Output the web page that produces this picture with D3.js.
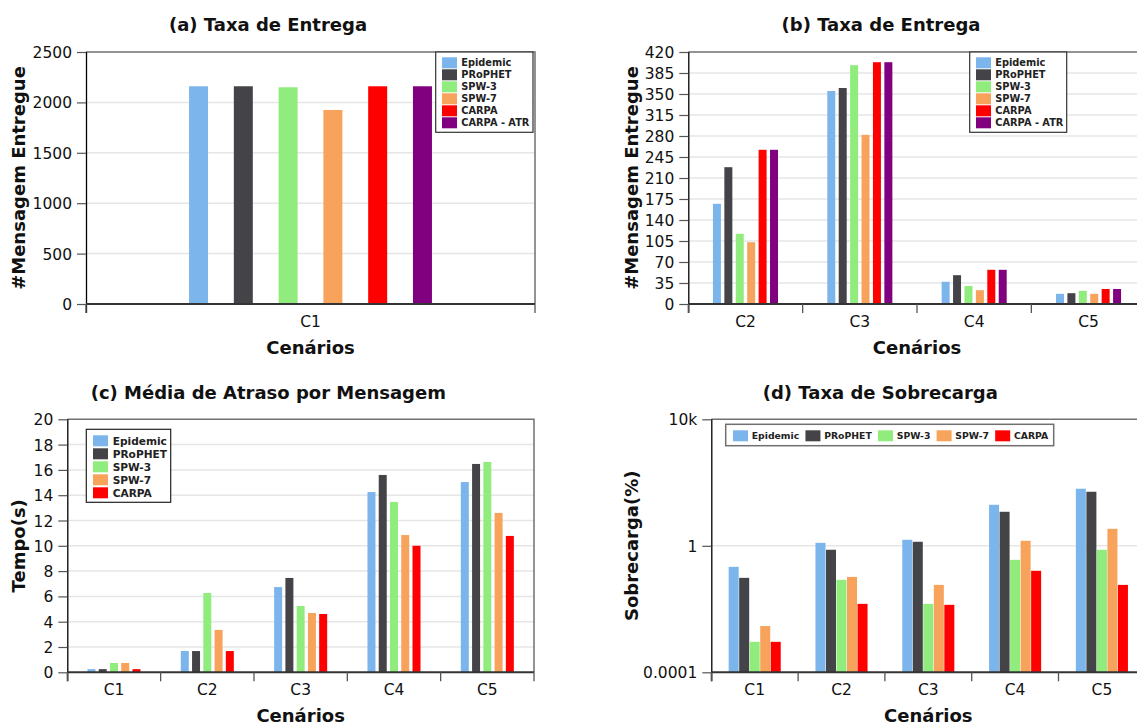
<!DOCTYPE html>
<html><head><meta charset="utf-8">
<script src="https://cdn.jsdelivr.net/npm/d3@7"></script>
<style>
html,body{margin:0;padding:0;background:#fff;}
svg{display:block;font-family:"DejaVu Sans",sans-serif;}
</style></head><body>
<svg id="chart" width="1137" height="725"></svg>
<script>
// ---------- data ----------
const seriesNames  = ["Epidemic", "PRoPHET", "SPW-3", "SPW-7", "CARPA", "CARPA - ATR"];
const seriesColors = ["#7cb5ec", "#434348", "#90ed7d", "#f7a35c", "#ff0000", "#800080"];

// (a) Taxa de Entrega, scenario C1 (one value per series)
const catsA = ["C1"];
const deliveredC1 = [2160, 2160, 2150, 1925, 2160, 2160];

// (b) Taxa de Entrega, scenarios C2..C5
const catsB = ["C2", "C3", "C4", "C5"];
const deliveredEpidemic = [167, 355, 37, 17];
const deliveredProphet  = [228, 360, 48, 18];
const deliveredSpw3     = [117, 398, 30, 22];
const deliveredSpw7     = [103, 282, 23, 17];
const deliveredCarpa    = [257, 403, 57, 25];
const deliveredCarpaAtr = [257, 403, 57, 25];

// (c) Média de Atraso por Mensagem
const catsCD = ["C1", "C2", "C3", "C4", "C5"];
const delayEpidemic = [0.25, 1.68, 6.74, 14.25, 15.04];
const delayProphet  = [0.25, 1.68, 7.46, 15.6, 16.47];
const delaySpw3     = [0.74, 6.27, 5.24, 13.46, 16.63];
const delaySpw7     = [0.74, 3.35, 4.69, 10.85, 12.6];
const delayCarpa    = [0.25, 1.68, 4.61, 10.0, 10.78];

// (d) Taxa de Sobrecarga (log scale)
const overheadEpidemic = [0.216, 1.24, 1.55, 19.8, 63.7];
const overheadProphet  = [0.097, 0.75, 1.34, 11.9, 51.2];
const overheadSpw3     = [0.00092, 0.084, 0.0146, 0.36, 0.75];
const overheadSpw7     = [0.0029, 0.104, 0.058, 1.44, 3.45];
const overheadCarpa    = [0.00092, 0.0146, 0.0136, 0.162, 0.058];

// ticks
const ticksA = [0, 500, 1000, 1500, 2000, 2500];
const ticksB = [0, 35, 70, 105, 140, 175, 210, 245, 280, 315, 350, 385, 420];
const ticksC = [0, 2, 4, 6, 8, 10, 12, 14, 16, 18, 20];
const ticksD = [0.0001, 1, 10000];
const tickLabelsD = ["0.0001", "1", "10k"];

// ---------- helpers ----------
const svg = d3.select("#chart");

function mkSeries(valuesList, n) {
  return valuesList.map((vals, i) => ({ name: seriesNames[i], color: seriesColors[i], values: vals })).slice(0, n);
}

function drawPanel(cfg) {
  const g = svg.append("g");
  const { left, right, top, bottom } = cfg.box;
  const x0 = d3.scaleBand().domain(cfg.categories).range([left, right]).padding(0);
  const bw = x0.bandwidth();
  const span = bw * cfg.groupFrac;
  const x1 = d3.scaleBand().domain(cfg.series.map(s => s.name))
      .range([(bw - span) / 2, (bw + span) / 2]).paddingInner(cfg.barPad).paddingOuter(0);

  let y;
  if (cfg.log) y = d3.scaleLog().domain(cfg.domain).range([bottom, top]);
  else y = d3.scaleLinear().domain(cfg.domain).range([bottom, top]);

  // gridlines
  g.append("g").selectAll("line").data(cfg.ticks.filter(t => y(t) > top + 1 && y(t) < bottom - 1))
    .join("line")
    .attr("x1", left).attr("x2", right)
    .attr("y1", d => y(d)).attr("y2", d => y(d))
    .attr("stroke", "#e6e6e6").attr("stroke-width", 1.5);

  // plot border (top & right)
  g.append("path")
    .attr("d", `M${left},${top}H${right}V${bottom}`)
    .attr("fill", "none").attr("stroke", "#707070").attr("stroke-width", 1.5);

  // bars
  const groups = g.append("g").selectAll("g").data(cfg.series).join("g")
    .attr("fill", d => d.color);
  groups.selectAll("rect")
    .data(s => s.values.map((v, i) => ({ s: s.name, c: cfg.categories[i], v })))
    .join("rect")
    .attr("x", d => x0(d.c) + x1(d.s))
    .attr("width", x1.bandwidth())
    .attr("y", d => y(d.v))
    .attr("height", d => bottom - y(d.v));

  // y axis
  const yAxis = d3.axisLeft(y).tickValues(cfg.ticks).tickSize(9).tickPadding(5)
    .tickFormat((d, i) => cfg.tickLabels ? cfg.tickLabels[i] : d3.format("d")(d));
  const ya = g.append("g").attr("transform", `translate(${left},0)`).call(yAxis);
  ya.select(".domain").attr("d", `M0.5,${top}V${bottom + 9}`).attr("stroke", "#000").attr("stroke-width", 1.3);
  ya.selectAll(".tick line").attr("stroke", "#555").attr("stroke-width", 1.2);
  ya.selectAll(".tick text").attr("dy", "0.36em")
    .attr("font-family", "DejaVu Sans").attr("font-size", 15.5).attr("fill", "#111");

  // x axis
  const xAxis = d3.axisBottom(x0).tickSize(0).tickPadding(0);
  const xa = g.append("g").attr("transform", `translate(0,${bottom})`).call(xAxis);
  xa.select(".domain").remove();
  xa.selectAll(".tick text").attr("y", 17.5).attr("dy", "0.36em")
    .attr("font-family", "DejaVu Sans").attr("font-size", 15.5).attr("fill", "#111");
  g.append("line").attr("x1", left).attr("x2", right).attr("y1", bottom).attr("y2", bottom)
    .attr("stroke", "#333").attr("stroke-width", 2);
  const bounds = d3.range(cfg.categories.length + 1).map(i => left + i * bw);
  g.append("g").selectAll("line").data(bounds).join("line")
    .attr("x1", d => d).attr("x2", d => d).attr("y1", bottom).attr("y2", bottom + 9)
    .attr("stroke", "#555").attr("stroke-width", 1.3);

  // titles
  g.append("text").attr("x", cfg.titleX).attr("y", cfg.titleY).attr("dy", "0.36em")
    .attr("text-anchor", "middle").attr("font-weight", "bold").attr("font-size", 18)
    .attr("fill", "#111").text(cfg.title);
  g.append("text").attr("x", (left + right) / 2).attr("y", bottom + 43.6).attr("dy", "0.36em")
    .attr("text-anchor", "middle").attr("font-weight", "bold").attr("font-size", 18)
    .attr("fill", "#111").text("Cenários");
  g.append("text")
    .attr("transform", `translate(${cfg.yTitleX},${(top + bottom) / 2}) rotate(-90)`)
    .attr("dy", "0.36em").attr("text-anchor", "middle")
    .attr("font-weight", "bold").attr("font-size", 18).attr("fill", "#111").text(cfg.yTitle);

  // legend
  const L = cfg.legend;
  const lg = g.append("g");
  const box = lg.append("rect").attr("x", L.x).attr("y", L.y)
    .attr("fill", "#fff").attr("stroke", L.stroke).attr("stroke-width", L.strokeWidth);
  if (L.horizontal) {
    let cx = L.x + L.padX;
    cfg.series.forEach(s => {
      lg.append("rect").attr("x", cx).attr("y", L.y + L.padY).attr("width", 15).attr("height", 11).attr("fill", s.color);
      const t = lg.append("text").attr("x", cx + L.textOff).attr("y", L.y + L.padY + 5.5).attr("dy", "0.36em")
        .attr("font-weight", "bold").attr("font-size", L.fontSize).attr("fill", "#222").text(s.name);
      cx += L.textOff + t.node().getComputedTextLength() + L.gap;
    });
    box.attr("width", L.w).attr("height", L.h);
  } else {
    cfg.series.forEach((s, i) => {
      const yy = L.y + L.padY + i * L.step;
      lg.append("rect").attr("x", L.x + L.padX).attr("y", yy).attr("width", 15).attr("height", 11).attr("fill", s.color);
      lg.append("text").attr("x", L.x + L.padX + L.textOff).attr("y", yy + 5.5).attr("dy", "0.36em")
        .attr("font-weight", "bold").attr("font-size", L.fontSize).attr("fill", "#222").text(s.name);
    });
    box.attr("width", L.w).attr("height", L.h);
  }
}

// ---------- panels ----------
drawPanel({
  box: { left: 86, right: 535, top: 52, bottom: 304 },
  categories: catsA,
  series: seriesNames.map((n, i) => ({ name: n, color: seriesColors[i], values: [deliveredC1[i]] })),
  domain: [0, 2500], ticks: ticksA,
  groupFrac: 0.541, barPad: 0.576,
  title: "(a) Taxa de Entrega", titleX: 268, titleY: 24.2,
  yTitle: "#Mensagem Entregue", yTitleX: 19,
  legend: { x: 435.7, y: 52, w: 97.3, h: 80.3, padX: 6.3, padY: 5.3, step: 12, textOff: 19.3, fontSize: 9.8, stroke: "#333", strokeWidth: 1.2 }
});

drawPanel({
  box: { left: 688.3, right: 1145.7, top: 52, bottom: 304 },
  categories: catsB,
  series: mkSeries([deliveredEpidemic, deliveredProphet, deliveredSpw3, deliveredSpw7, deliveredCarpa, deliveredCarpaAtr], 6),
  domain: [0, 420], ticks: ticksB,
  groupFrac: 0.569, barPad: 0.30,
  title: "(b) Taxa de Entrega", titleX: 881, titleY: 24.2,
  yTitle: "#Mensagem Entregue", yTitleX: 632,
  legend: { x: 969.7, y: 52, w: 97, h: 80.3, padX: 6.3, padY: 5.3, step: 12, textOff: 19.3, fontSize: 9.8, stroke: "#333", strokeWidth: 1.2 }
});

drawPanel({
  box: { left: 67.3, right: 534, top: 419.3, bottom: 672.3 },
  categories: catsCD,
  series: mkSeries([delayEpidemic, delayProphet, delaySpw3, delaySpw7, delayCarpa], 5),
  domain: [0, 20], ticks: ticksC,
  groupFrac: 0.568, barPad: 0.29,
  title: "(c) Média de Atraso por Mensagem", titleX: 268.3, titleY: 392.5,
  yTitle: "Tempo(s)", yTitleX: 19,
  legend: { x: 86.3, y: 429.3, w: 84.4, h: 73, padX: 6.7, padY: 6, step: 13, textOff: 19.7, fontSize: 10.6, stroke: "#222", strokeWidth: 1.2 }
});

drawPanel({
  box: { left: 711.3, right: 1145.3, top: 419.3, bottom: 672.3 },
  categories: catsCD,
  series: mkSeries([overheadEpidemic, overheadProphet, overheadSpw3, overheadSpw7, overheadCarpa], 5),
  log: true, domain: [0.0001, 10000], ticks: ticksD, tickLabels: tickLabelsD,
  groupFrac: 0.60, barPad: 0.048,
  title: "(d) Taxa de Sobrecarga", titleX: 880.3, titleY: 392.5,
  yTitle: "Sobrecarga(%)", yTitleX: 632,
  legend: { horizontal: true, x: 725.7, y: 424.3, w: 328, h: 21.4, padX: 7.3, padY: 6, textOff: 18.7, gap: 6.2, fontSize: 9.3, stroke: "#707070", strokeWidth: 1.5 }
});
</script>
</body></html>
